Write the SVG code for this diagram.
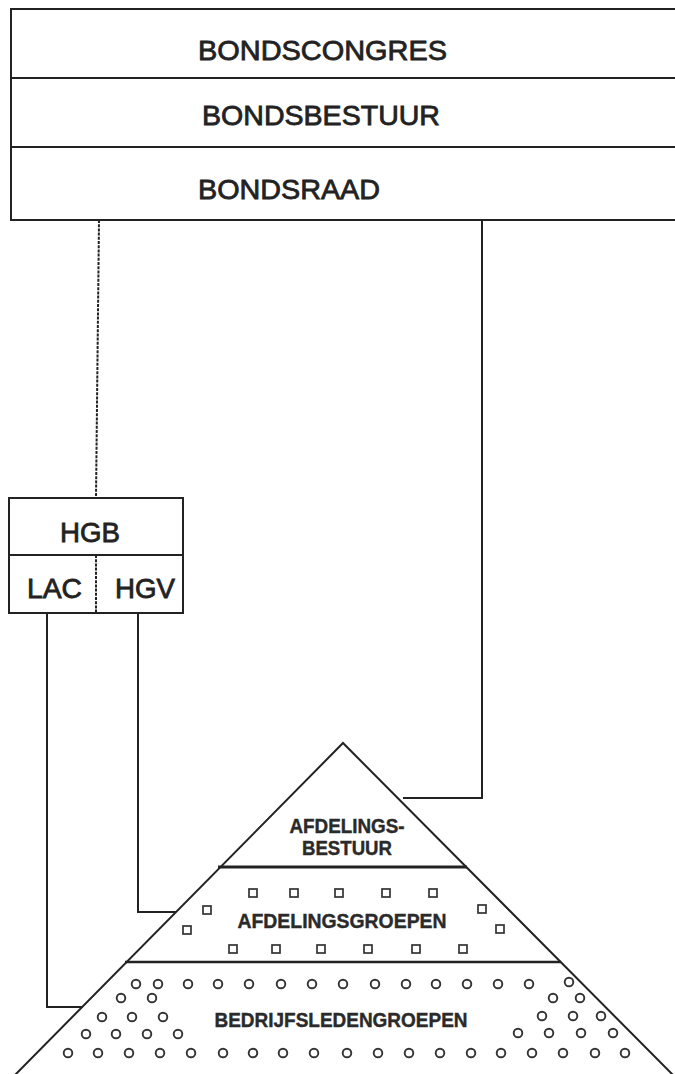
<svg xmlns="http://www.w3.org/2000/svg" width="675" height="1074" viewBox="0 0 675 1074">
<style>
.box{fill:#fff;stroke:#222;stroke-width:2}
.ln{fill:none;stroke:#222;stroke-width:2}
.dash{fill:none;stroke:#222;stroke-width:2;stroke-dasharray:3 1.2}
.t{font-family:"Liberation Sans",Arial,sans-serif;fill:#222;stroke:#222;stroke-width:0.8}
.tb{font-family:"Liberation Sans",Arial,sans-serif;font-weight:bold;fill:#2a2a2a;stroke:#2a2a2a;stroke-width:0.4}
.sq{fill:none;stroke:#333;stroke-width:1.7}
.ci{fill:none;stroke:#333;stroke-width:1.9}
</style>
<defs>
<rect id="s" x="-4" y="-4" width="8" height="8" class="sq"/>
<circle id="c" r="4.3" class="ci"/>
</defs>

<g id="connectors">
<path class="dash" d="M99 220 L96 498"/>
<path class="ln" d="M482 220 L482 798 L403 798"/>
<path class="ln" d="M47 613 L47 1007 L83 1007"/>
<path class="ln" d="M138 613 L138 912 L176 912"/>
</g>

<g id="bond">
<rect class="box" x="11" y="9" width="680" height="211"/>
<line class="ln" x1="11" y1="78" x2="675" y2="78"/>
<line class="ln" x1="11" y1="147" x2="675" y2="147"/>
<text class="t" x="198" y="60" font-size="28" textLength="249" lengthAdjust="spacingAndGlyphs">BONDSCONGRES</text>
<text class="t" x="202" y="125" font-size="28" textLength="238" lengthAdjust="spacingAndGlyphs">BONDSBESTUUR</text>
<text class="t" x="198" y="199" font-size="28" textLength="182" lengthAdjust="spacingAndGlyphs">BONDSRAAD</text>
</g>

<g id="hgb">
<rect class="box" x="9" y="498" width="174" height="115"/>
<line class="ln" x1="9" y1="555" x2="183" y2="555"/>
<line class="dash" x1="96" y1="555" x2="96" y2="613"/>
<text class="t" x="60" y="542" font-size="28" textLength="60" lengthAdjust="spacingAndGlyphs">HGB</text>
<text class="t" x="27" y="598" font-size="28" textLength="55" lengthAdjust="spacingAndGlyphs">LAC</text>
<text class="t" x="115" y="598" font-size="28" textLength="60" lengthAdjust="spacingAndGlyphs">HGV</text>
</g>

<g id="pyramid">
<path class="ln" d="M14 1076 L343 743 L674 1076" stroke-width="1.8"/>
<line x1="218" y1="867" x2="467" y2="867" stroke="#222" stroke-width="3"/>
<line x1="125" y1="962" x2="561" y2="962" stroke="#222" stroke-width="2.5"/>
<text class="tb" x="347" y="833" font-size="20" text-anchor="middle" textLength="115" lengthAdjust="spacingAndGlyphs">AFDELINGS-</text>
<text class="tb" x="347" y="855" font-size="20" text-anchor="middle" textLength="90" lengthAdjust="spacingAndGlyphs">BESTUUR</text>
<text class="tb" x="342" y="928" font-size="20" text-anchor="middle" textLength="209" lengthAdjust="spacingAndGlyphs">AFDELINGSGROEPEN</text>
<text class="tb" x="341" y="1027" font-size="20" text-anchor="middle" textLength="253" lengthAdjust="spacingAndGlyphs">BEDRIJFSLEDENGROEPEN</text>
</g>

<g id="squares">
<use href="#s" x="253" y="893"/><use href="#s" x="294" y="893"/><use href="#s" x="339" y="893"/><use href="#s" x="386" y="893"/><use href="#s" x="433" y="893"/>
<use href="#s" x="233" y="949"/><use href="#s" x="276" y="949"/><use href="#s" x="321" y="949"/><use href="#s" x="368" y="949"/><use href="#s" x="416" y="949"/><use href="#s" x="463" y="949"/>
<use href="#s" x="207" y="910"/><use href="#s" x="187" y="930"/><use href="#s" x="482" y="909"/><use href="#s" x="500" y="929"/>
</g>

<g id="circles">
<use href="#c" x="136" y="984"/><use href="#c" x="158" y="984"/><use href="#c" x="188" y="984"/><use href="#c" x="218" y="984"/><use href="#c" x="249" y="984"/><use href="#c" x="281" y="984"/><use href="#c" x="312" y="984"/><use href="#c" x="343" y="984"/><use href="#c" x="375" y="984"/><use href="#c" x="406" y="984"/><use href="#c" x="436" y="984"/><use href="#c" x="467" y="984"/><use href="#c" x="498" y="984"/><use href="#c" x="529" y="984"/><use href="#c" x="569" y="982"/>
<use href="#c" x="121" y="998"/><use href="#c" x="152" y="998"/>
<use href="#c" x="102" y="1017"/><use href="#c" x="132" y="1017"/><use href="#c" x="163" y="1017"/>
<use href="#c" x="86" y="1034"/><use href="#c" x="116" y="1034"/><use href="#c" x="147" y="1034"/><use href="#c" x="178" y="1034"/>
<use href="#c" x="553" y="998"/><use href="#c" x="580" y="998"/>
<use href="#c" x="542" y="1016"/><use href="#c" x="573" y="1016"/><use href="#c" x="601" y="1016"/>
<use href="#c" x="518" y="1033"/><use href="#c" x="549" y="1033"/><use href="#c" x="581" y="1033"/><use href="#c" x="613" y="1033"/>
<use href="#c" x="68" y="1053"/><use href="#c" x="98" y="1053"/><use href="#c" x="129" y="1053"/><use href="#c" x="160" y="1053"/><use href="#c" x="191" y="1053"/><use href="#c" x="223" y="1053"/><use href="#c" x="253" y="1053"/><use href="#c" x="283" y="1053"/><use href="#c" x="314" y="1053"/><use href="#c" x="347" y="1053"/><use href="#c" x="378" y="1053"/><use href="#c" x="409" y="1053"/><use href="#c" x="440" y="1053"/><use href="#c" x="471" y="1053"/><use href="#c" x="501" y="1053"/><use href="#c" x="532" y="1053"/><use href="#c" x="563" y="1053"/><use href="#c" x="595" y="1053"/><use href="#c" x="625" y="1053"/>
</g>
</svg>
